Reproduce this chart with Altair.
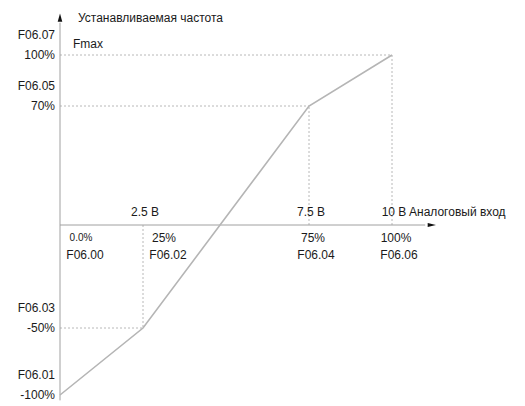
import altair as alt
import pandas as pd

# Characteristic curve (analog input % -> set frequency %)
x_pct = [0, 25, 75, 100]
y_pct = [-100, -50, 70, 100]

# Y-side labels
ytick_vals = [100, 70, -50, -100]
ytick_pct = ["100%", "70%", "-50%", "-100%"]
ytick_code = ["F06.07", "F06.05", "F06.03", "F06.01"]

# X-side labels
xtick_vals = [0, 25, 75, 100]
xtick_volt = ["", "2.5 В", "7.5 В", "10 В"]
xtick_pct = ["0.0%", "25%", "75%", "100%"]
xtick_code = ["F06.00", "F06.02", "F06.04", "F06.06"]

y_title = "Устанавливаемая частота"
x_title = "Аналоговый вход"
fmax_label = "Fmax"

# axis extents (data units)
x_axis_end = 112
y_axis_top = 122
y_axis_bottom = -104

FONT = "Liberation Sans"
TXT = "#1a1a1a"

xs = alt.Scale(domain=[0, 100], range=[52, 384], zero=False, nice=False)
ys = alt.Scale(domain=[-100, -50, 0, 70, 100], range=[387, 320, 217, 98, 47],
               zero=False, nice=False)

curve = pd.DataFrame({"x": x_pct, "y": y_pct})

guides = []
for xv, yv in zip(x_pct[1:], y_pct[1:]):
    guides.append({"x": 0, "x2": xv, "y": yv, "y2": yv})
    guides.append({"x": xv, "x2": xv, "y": 0, "y2": yv})
guides = pd.DataFrame(guides)

axes = pd.DataFrame([
    {"x": 0, "x2": x_axis_end - 2, "y": 0, "y2": 0},
    {"x": 0, "x2": 0, "y": y_axis_bottom, "y2": y_axis_top - 3},
])

ylab = pd.DataFrame({"y": ytick_vals, "pct": ytick_pct, "code": ytick_code, "x": 0})
xlab = pd.DataFrame({"x": xtick_vals, "volt": xtick_volt, "pct": xtick_pct,
                     "code": xtick_code, "y": 0})

X = lambda f="x": alt.X(f, type="quantitative", scale=xs, axis=None)
Y = lambda f="y": alt.Y(f, type="quantitative", scale=ys, axis=None)

guide_layer = alt.Chart(guides).mark_rule(
    color="#b8b8b8", strokeDash=[2, 2], strokeWidth=1
).encode(x=X(), x2="x2", y=Y(), y2="y2")

axis_layer = alt.Chart(axes).mark_rule(color="#a0a0a0", strokeWidth=1).encode(
    x=X(), x2="x2", y=Y(), y2="y2")

line_layer = alt.Chart(curve).mark_line(color="#b5b5b5", strokeWidth=1.6).encode(
    x=X(), y=Y())

arr_up = alt.Chart(pd.DataFrame({"x": [0], "y": [y_axis_top]})).mark_point(
    shape="M-0.55,1 L0,-1 L0.55,1 Z", filled=True, color="#111", opacity=1, size=70
).encode(x=X(), y=Y())
arr_right = alt.Chart(pd.DataFrame({"x": [x_axis_end], "y": [0]})).mark_point(
    shape="M-1,-0.5 L1,0 L-1,0.5 Z", filled=True, color="#111", opacity=1, size=70
).encode(x=X(), y=Y())

def txt(df, field, **kw):
    base = dict(font=FONT, fontSize=12, color=TXT, baseline="middle")
    base.update(kw)
    return alt.Chart(df).mark_text(**base).encode(x=X(), y=Y(), text=field)

ypct_layer = txt(ylab, "pct", align="right", dx=-5)
ycode_layer = txt(ylab, "code", align="right", dx=-5, dy=-20)

low = xlab[xlab["x"] < 50]
high = xlab[xlab["x"] >= 50]
xvolt_layer = txt(xlab, "volt", align="center", dx=2, dy=-13)
xpct_low = alt.Chart(low).mark_text(font=FONT, color=TXT, baseline="middle",
                                    align="center", dx=21, dy=13).encode(
    x=X(), y=Y(), text="pct",
    size=alt.condition("datum.x == 0", alt.value(10), alt.value(12)))
xcode_low = txt(low, "code", align="center", dx=25, dy=30)
xpct_high = txt(high, "pct", align="center", dx=4, dy=13)
xcode_high = txt(high, "code", align="center", dx=7, dy=30)

title_y = txt(pd.DataFrame({"x": [0], "y": [y_axis_top], "t": [y_title]}), "t",
              align="left", dx=18)
fmax = txt(pd.DataFrame({"x": [0], "y": [100], "t": [fmax_label]}), "t",
           align="left", dx=13, dy=-11)
title_x = txt(pd.DataFrame({"x": [100], "y": [0], "t": [x_title]}), "t",
              align="left", dx=17, dy=-13)

chart = alt.layer(
    guide_layer, axis_layer, line_layer, arr_up, arr_right,
    ypct_layer, ycode_layer, xvolt_layer, xpct_low, xcode_low,
    xpct_high, xcode_high, title_y, fmax, title_x
).properties(width=509, height=398, autosize="none", padding=0
).configure_view(stroke=None)

chart.save("out.html", embed_options={"renderer": "svg", "actions": False})
